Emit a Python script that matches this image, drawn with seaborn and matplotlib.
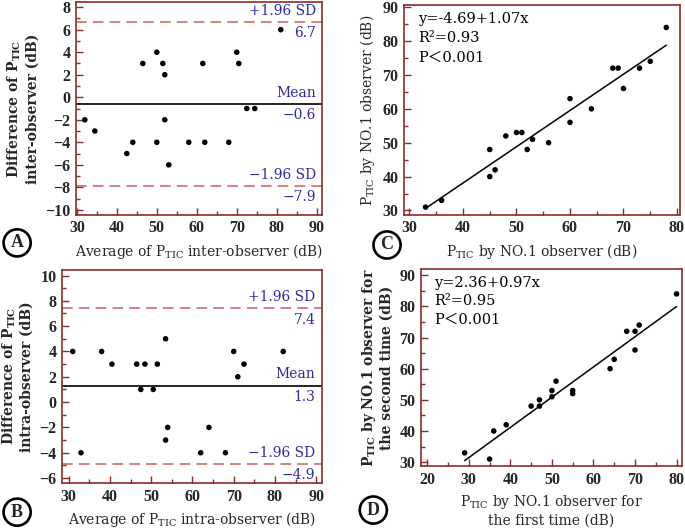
import matplotlib
matplotlib.use("Agg")
import matplotlib.pyplot as plt
from matplotlib.ticker import MultipleLocator
import numpy as np
import pandas as pd
import seaborn as sns

# A: inter-observer Bland-Altman
inter_avg = [32, 34.5, 46.5, 42.5, 44, 50, 51.5, 52, 50, 52, 53, 61.5, 58, 62, 70, 70.5, 68, 72.5, 74.5, 81]
inter_diff = [-2, -3, 3, -5, -4, 4, 3, 2, -4, -2, -6, 3, -4, -4, 4, 3, -4, -1, -1, 6]
inter_limits = {"mean": -0.6, "upper": 6.7, "lower": -7.9}

# B: intra-observer Bland-Altman
intra_avg = [31, 33, 38, 40.5, 46.5, 48.5, 47.5, 51.5, 50.5, 53.5, 54, 53.5, 62, 64, 70, 71, 68, 72.5, 82]
intra_diff = [4, -4, 4, 3, 3, 3, 1, 3, 1, 5, -2, -3, -4, -2, 4, 2, -4, 3, 4]
intra_limits = {"mean": 1.3, "upper": 7.4, "lower": -4.9}

# C: observer 1 vs observer 2
obs2 = [33, 36, 45, 45, 46, 48, 50, 51, 52, 53, 56, 60, 60, 64, 68, 69, 70, 73, 75, 78]
obs1 = [31, 33, 48, 40, 42, 52, 53, 53, 48, 51, 50, 63, 56, 60, 72, 72, 66, 72, 74, 84]
c_fit = (-4.69, 1.07)
c_stats = ["y=-4.69+1.07x", "R²=0.93", "P＜0.001"]

# D: first vs second time
first_time = [29, 35, 36, 39, 45, 47, 47, 50, 50, 51, 55, 55, 64, 65, 68, 70, 70, 71, 80]
second_time = [33, 31, 40, 42, 48, 50, 48, 53, 51, 56, 53, 52, 60, 63, 72, 72, 66, 74, 84]
d_fit = (2.36, 0.97)
d_stats = ["y=2.36+0.97x", "R²=0.95", "P＜0.001"]

FRAME = "#8c2a2a"
DASH = "#c8605c"
BLUE = "#2b2ba8"
LAB_FONT = ["DejaVu Serif", "Noto Sans CJK SC"]
TICK_FONT = "Liberation Serif"
PTIC = r"$\mathregular{P_{TIC}}$"

sns.set_theme(style="white")
plt.rcParams["font.family"] = LAB_FONT
plt.rcParams["mathtext.fontset"] = "dejavuserif"

fig = plt.figure(figsize=(6.85, 5.28), dpi=100)
axA = fig.add_axes([0.111, 0.593, 0.359, 0.403])
axC = fig.add_axes([0.590, 0.593, 0.403, 0.398])
axB = fig.add_axes([0.0905, 0.085, 0.3796, 0.404])
axD = fig.add_axes([0.6146, 0.117, 0.381, 0.373])


def style_axes(ax, xmaj, ymaj):
    for sp in ax.spines.values():
        sp.set_color(FRAME)
        sp.set_linewidth(1.2)
    ax.xaxis.set_major_locator(MultipleLocator(xmaj))
    ax.xaxis.set_minor_locator(MultipleLocator(xmaj / 2))
    ax.yaxis.set_major_locator(MultipleLocator(ymaj))
    ax.yaxis.set_minor_locator(MultipleLocator(ymaj / 2))
    ax.tick_params(which="both", direction="in", color=FRAME, width=1,
                   top=False, right=False, bottom=True, left=True)
    ax.tick_params(which="major", length=5, pad=4)
    ax.tick_params(which="minor", length=3)
    for lab in ax.get_xticklabels() + ax.get_yticklabels():
        lab.set_fontfamily(TICK_FONT)
        lab.set_fontweight("bold")
        lab.set_fontsize(11.5)
    ax.grid(False)


def bland_altman(ax, avg, diff, lim, xlim, ylim, xlabel, ylabel):
    df = pd.DataFrame({"avg": avg, "diff": diff})
    sns.scatterplot(data=df, x="avg", y="diff", ax=ax, color="black", s=16,
                    edgecolor="none", zorder=3)
    ax.axhline(lim["mean"], color="black", lw=1.2)
    ax.axhline(lim["upper"], color=DASH, lw=1.1, dashes=(7, 4))
    ax.axhline(lim["lower"], color=DASH, lw=1.1, dashes=(7, 4))
    ax.set_xlim(*xlim)
    ax.set_ylim(*ylim)
    style_axes(ax, 10, 2)
    kw = dict(xycoords=("axes fraction", "data"), textcoords="offset points",
              ha="right", color=BLUE, fontsize=10)
    ax.annotate("+1.96 SD", (0.975, lim["upper"]), xytext=(0, 3), va="bottom", **kw)
    ax.annotate(f"{lim['upper']:.1f}", (0.975, lim["upper"]), xytext=(0, -3), va="top", **kw)
    ax.annotate("Mean", (0.975, lim["mean"]), xytext=(0, 3), va="bottom", **kw)
    ax.annotate(f"{lim['mean']:.1f}".replace("-", "−"), (0.975, lim["mean"]), xytext=(0, -3), va="top", **kw)
    ax.annotate("−1.96 SD", (0.975, lim["lower"]), xytext=(0, 3), va="bottom", **kw)
    ax.annotate(f"{lim['lower']:.1f}".replace("-", "−"), (0.975, lim["lower"]), xytext=(0, -3), va="top", **kw)
    ax.set_xlabel(xlabel, fontsize=10, labelpad=4)
    ax.set_ylabel(ylabel, fontsize=10, fontweight="bold", labelpad=4, linespacing=1.2)


def regression(ax, x, y, fit, stats, xlim, ylim, xlabel, ylabel, ybold=False):
    df = pd.DataFrame({"x": x, "y": y})
    sns.scatterplot(data=df, x="x", y="y", ax=ax, color="black", s=16,
                    edgecolor="none", zorder=3)
    xs = np.array([min(x), max(x)])
    line = pd.DataFrame({"x": xs, "y": fit[0] + fit[1] * xs})
    sns.lineplot(data=line, x="x", y="y", ax=ax, color="black", lw=1.1)
    ax.set_xlim(*xlim)
    ax.set_ylim(*ylim)
    style_axes(ax, 10, 10)
    for i, s in enumerate(stats):
        ax.text(0.05, 0.965 - i * 0.092, s, transform=ax.transAxes, ha="left", va="top",
                fontsize=10.5, color="black", family=LAB_FONT)
    ax.set_xlabel(xlabel, fontsize=10, labelpad=4, linespacing=1.2)
    ax.set_ylabel(ylabel, fontsize=10, labelpad=4, linespacing=1.2,
                  fontweight="bold" if ybold else "normal")


bland_altman(axA, inter_avg, inter_diff, inter_limits, (29.8, 91.3), (-10.45, 8.45),
             f"Average of {PTIC} inter-observer (dB)",
             f"Difference of {PTIC}\ninter-observer (dB)")
bland_altman(axB, intra_avg, intra_diff, intra_limits, (28.4, 91.4), (-6.4, 10.45),
             f"Average of {PTIC} intra-observer (dB)",
             f"Difference of {PTIC}\nintra-observer (dB)")
regression(axC, obs2, obs1, c_fit, c_stats, (29.0, 80.6), (28.7, 90.7),
           f"{PTIC} by NO.1 observer (dB)", f"{PTIC} by NO.1 observer (dB)")
regression(axD, first_time, second_time, d_fit, d_stats, (18.5, 81.3), (28.7, 91.9),
           f"{PTIC} by NO.1 observer for\nthe first time (dB)",
           f"{PTIC} by NO.1 observer for\nthe second time (dB)", ybold=True)

for letter, (fx, fy) in {"A": (0.025, 0.540), "B": (0.025, 0.030),
                         "C": (0.565, 0.536), "D": (0.545, 0.034)}.items():
    fig.text(fx, fy, letter, ha="center", va="center", fontsize=13, fontweight="bold",
             family="Liberation Serif",
             bbox=dict(boxstyle="circle,pad=0.28", fc="white", ec="black", lw=1.9))

fig.savefig("out.png", dpi=100)
